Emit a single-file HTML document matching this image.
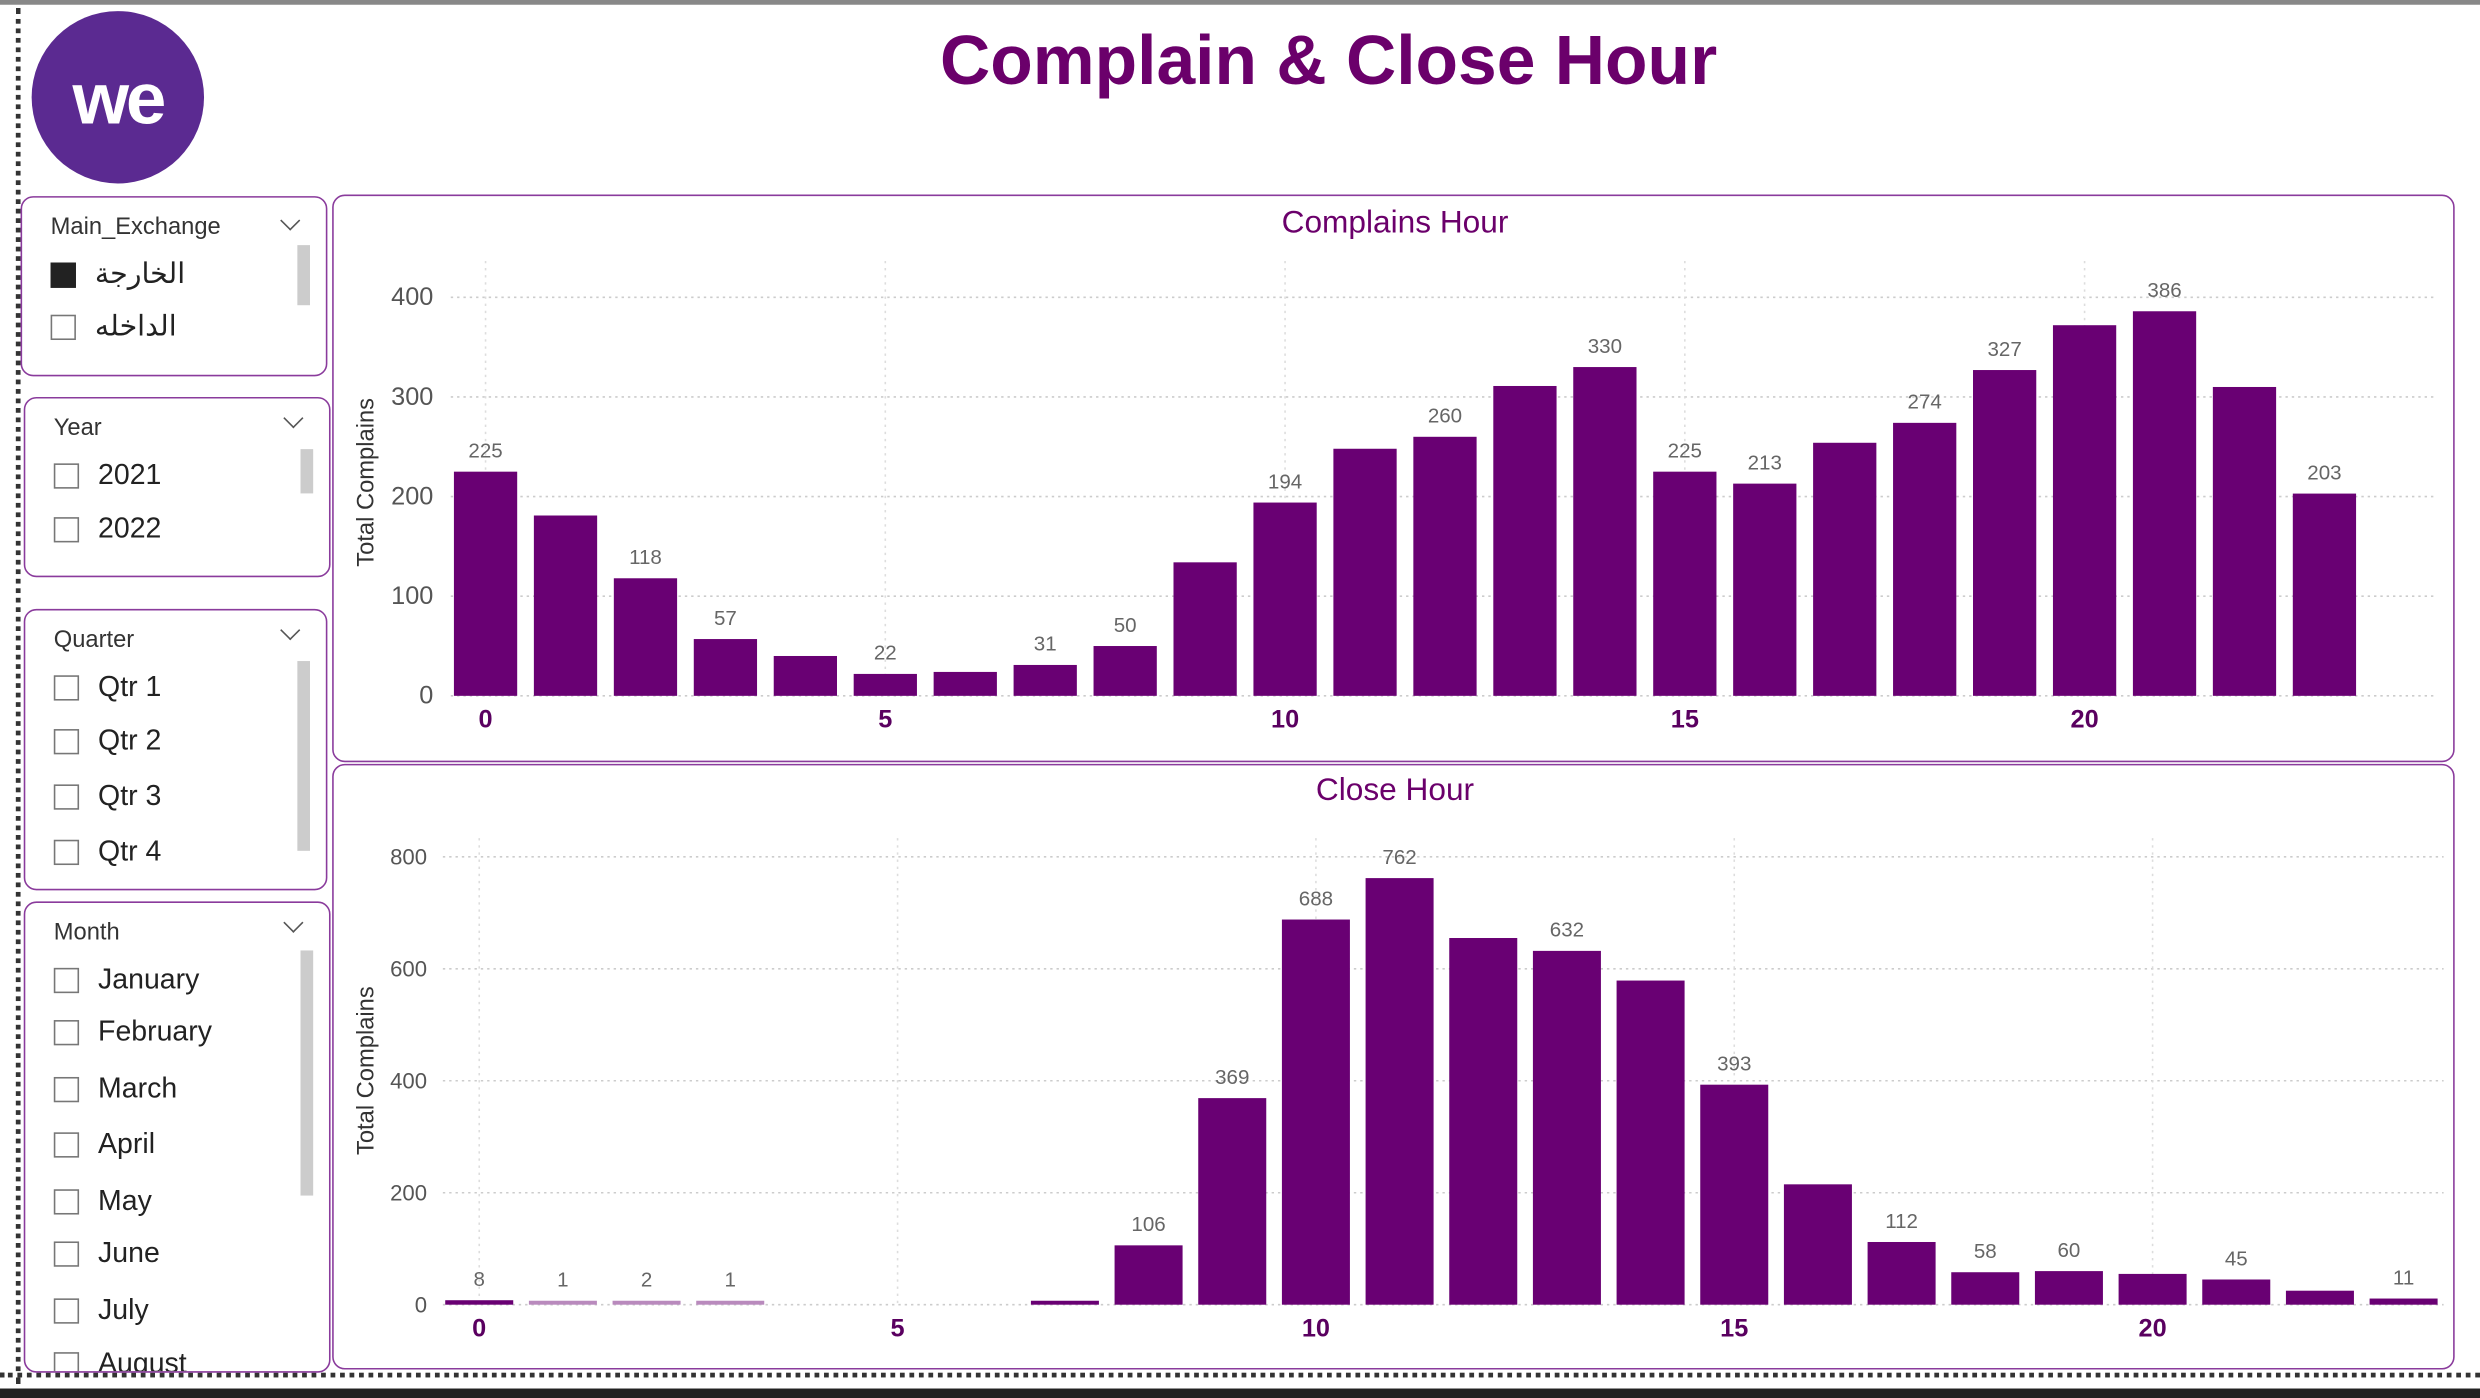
<!DOCTYPE html>
<html><head><meta charset="utf-8">
<style>
html,body{margin:0;padding:0;background:#fff;overflow:hidden}
#root{position:absolute;left:0;top:0;width:1568px;height:884px;transform:scale(1.58163,1.58145);transform-origin:0 0;font-family:"Liberation Sans","Noto Sans CJK SC",sans-serif;background:#fff}
.panel{position:absolute;border:1.5px solid #8a3b9c;border-radius:8px;background:#fff}
.slicer-title{position:absolute;left:18px;font-size:15px;color:#333}
.chev{position:absolute;right:18px;width:8px;height:8px;border-right:1.5px solid #555;border-bottom:1.5px solid #555;transform:rotate(45deg)}
.item{position:absolute;left:18px;font-size:18px;color:#222;display:flex;align-items:center}
.box{width:16px;height:16px;border:1.3px solid #777;margin-right:12px;box-sizing:border-box}
.scroll{position:absolute;right:10px;width:8px;background:#ccc}
</style></head><body>
<div id="root">
<div style="position:absolute;left:0;top:0;width:1568px;height:3px;background:#888"></div>
<div style="position:absolute;left:10px;top:5px;width:0;height:870px;border-left:3px dotted #333"></div>
<div style="position:absolute;left:0;top:868px;width:1568px;height:0;border-top:3px dotted #333"></div>
<div style="position:absolute;left:0;top:878px;width:1568px;height:6px;background:#222"></div>

<div style="position:absolute;left:20px;top:7px;width:109px;height:109px;border-radius:50%;background:#5b2a91;color:#fff;font-size:46px;font-weight:bold;display:flex;align-items:center;justify-content:center;letter-spacing:-2px">we</div>
<div style="position:absolute;left:560px;top:14px;width:560px;text-align:center;font-size:44px;font-weight:bold;color:#6b006b">Complain &amp; Close Hour</div>

<div class="panel" style="left:13px;top:124px;width:192px;height:112px">
 <div class="slicer-title" style="top:10px">Main_Exchange</div><div class="chev" style="top:10px"></div>
 <div class="scroll" style="top:30px;height:38px"></div>
 <div class="item" style="top:38px"><div class="box" style="background:#222;border-color:#222"></div>الخارجة</div>
 <div class="item" style="top:71px"><div class="box"></div>الداخله</div>
</div>
<div class="panel" style="left:15px;top:251px;width:192px;height:112px">
 <div class="slicer-title" style="top:10px">Year</div><div class="chev" style="top:8px"></div>
 <div class="scroll" style="top:32px;height:28px"></div>
 <div class="item" style="top:38px"><div class="box"></div>2021</div>
 <div class="item" style="top:72px"><div class="box"></div>2022</div>
</div>
<div class="panel" style="left:15px;top:385px;width:190px;height:176px">
 <div class="slicer-title" style="top:10px">Quarter</div><div class="chev" style="top:8px"></div>
 <div class="scroll" style="top:32px;height:120px"></div>
 <div class="item" style="top:38px"><div class="box"></div>Qtr 1</div>
 <div class="item" style="top:72px"><div class="box"></div>Qtr 2</div>
 <div class="item" style="top:107px"><div class="box"></div>Qtr 3</div>
 <div class="item" style="top:142px"><div class="box"></div>Qtr 4</div>
</div>
<div class="panel" style="left:15px;top:570px;width:192px;height:296px;overflow:hidden">
 <div class="slicer-title" style="top:10px">Month</div><div class="chev" style="top:8px"></div>
 <div class="scroll" style="top:30px;height:155px"></div>
 <div class="item" style="top:38px"><div class="box"></div>January</div>
 <div class="item" style="top:71px"><div class="box"></div>February</div>
 <div class="item" style="top:107px"><div class="box"></div>March</div>
 <div class="item" style="top:142px"><div class="box"></div>April</div>
 <div class="item" style="top:178px"><div class="box"></div>May</div>
 <div class="item" style="top:211px"><div class="box"></div>June</div>
 <div class="item" style="top:247px"><div class="box"></div>July</div>
 <div class="item" style="top:281px"><div class="box"></div>August</div>
</div>

<div class="panel" style="left:210px;top:123px;width:1340px;height:357px"></div>
<div class="panel" style="left:210px;top:483px;width:1340px;height:381px"></div>
<svg id="svg" width="1568" height="884" style="position:absolute;left:0;top:0"></svg>
</div>
<script>
// Complains Hour
const hours = [0,1,2,3,4,5,6,7,8,9,10,11,12,13,14,15,16,17,18,19,20,21,22,23];
const complainValues = [225,181,118,57,40,22,24,31,50,134,194,248,260,311,330,225,213,254,274,327,372,386,310,203];
const complainLabels = [225,null,118,57,null,22,null,31,50,null,194,null,260,null,330,225,213,null,274,327,null,386,null,203];
const complainTicks = [0,100,200,300,400];
// Close Hour
const closeValues = [8,1,2,1,0,0,0,7,106,369,688,762,655,632,579,393,215,112,58,60,55,45,25,11];
const closeLabels = [8,1,2,1,null,null,null,null,106,369,688,762,null,632,null,393,null,112,58,60,null,45,null,11];
const closeTicks = [0,200,400,600,800];
const xTicks = [0,5,10,15,20];

const svg = document.getElementById('svg');
const NS = 'http://www.w3.org/2000/svg';
function mk(tag, attrs, parent){const e=document.createElementNS(NS,tag);for(const k in attrs)e.setAttribute(k,attrs[k]);(parent||svg).appendChild(e);return e;}

function drawChart(cfg){
  const g = mk('g',{});
  
  
  const x = h => cfg.x0 + h*cfg.step;
  const y = v => cfg.base - v*cfg.scale;
  const t = mk('text',{x:cfg.titleX,y:cfg.titleY,'text-anchor':'middle','font-size':20,fill:'#6b006b'},g);
  t.textContent = cfg.title;
  
  
  cfg.yTicks.forEach(v=>{
    const l = mk('line',{x1:cfg.gridL,x2:cfg.gridR,y1:y(v),y2:y(v),stroke:'#ccc','stroke-dasharray':'1.5 2.5'},g);
    
    
    const tx = mk('text',{x:cfg.yLabX,y:y(v)+5,'text-anchor':'end','font-size':cfg.yFont,fill:'#555'},g);
    tx.textContent = v;
    
    
  });
  xTicks.forEach(h=>{
    const l = mk('line',{x1:x(h),x2:x(h),y1:cfg.gridTop,y2:cfg.base,stroke:'#ddd','stroke-dasharray':'1.5 3'},g);
    
    
    const tx = mk('text',{x:x(h),y:cfg.base+20,'text-anchor':'middle','font-size':16,'font-weight':'bold',fill:'#5a0060'},g);
    tx.textContent = h;
    
    
  });
  const yt = mk('text',{x:0,y:0,'text-anchor':'middle','font-size':15,fill:'#333',transform:`translate(${cfg.yTitleX},${cfg.yTitleY}) rotate(-90)`},g);
  yt.textContent = 'Total Complains';
  
  
  hours.forEach((h,i)=>{
    const v = cfg.values[i];
    if(v<=0) return;
    const hh = Math.max(v*cfg.scale, 2.5);
    const b = mk('rect',{x:x(h)-cfg.bw/2,y:cfg.base-hh,width:cfg.bw,height:hh,fill:v<3?'#b98abd':'#690073'},g);
    
    
    if(cfg.labels[i]!=null){
      const lt = mk('text',{x:x(h),y:cfg.base-hh-9,'text-anchor':'middle','font-size':13,fill:'#666'},g);
      lt.textContent = cfg.labels[i];
      
      
    }
  });
}
drawChart({name:'complains-hour-chart',title:'Complains Hour',titleX:882,titleY:147,values:complainValues,labels:complainLabels,yTicks:complainTicks,
  x0:307,step:50.55,bw:40,base:440,scale:0.63,gridL:285,gridR:1540,gridTop:165,yLabX:274,yFont:16,yTitleX:236,yTitleY:305});
drawChart({name:'close-hour-chart',title:'Close Hour',titleX:882,titleY:506,values:closeValues,labels:closeLabels,yTicks:closeTicks,
  x0:303,step:52.9,bw:43,base:825,scale:0.354,gridL:280,gridR:1545,gridTop:530,yLabX:270,yFont:14,yTitleX:236,yTitleY:677});
</script>
</body></html>
